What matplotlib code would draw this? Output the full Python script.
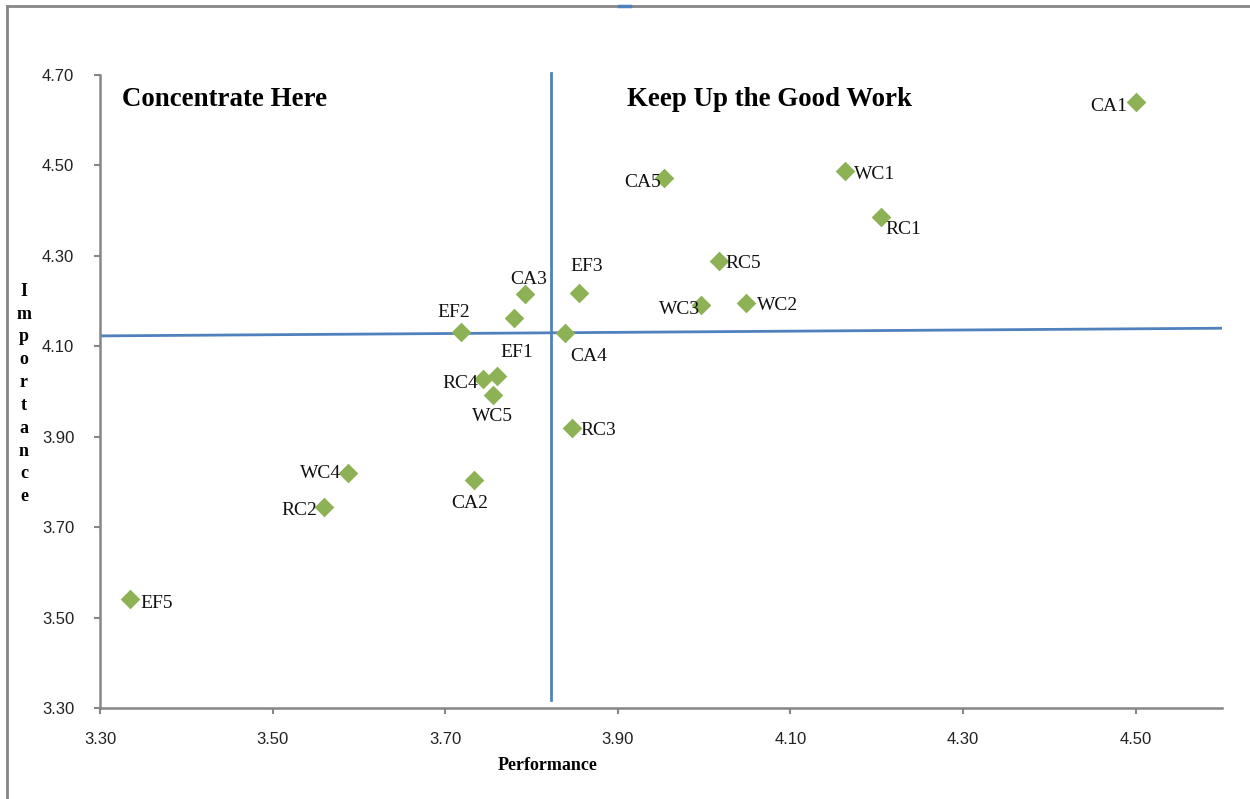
import matplotlib
matplotlib.use("Agg")
import matplotlib.pyplot as plt
from matplotlib.lines import Line2D

# performance (x) / importance (y) per item
labels = ["CA1", "WC1", "RC1", "CA5", "RC5", "WC2", "WC3", "EF3", "CA3", "EF1",
          "EF2", "CA4", "EF4", "RC4", "WC5", "RC3", "WC4", "CA2", "RC2", "EF5"]
performance = [4.500, 4.163, 4.205, 3.953, 4.017, 4.049, 3.996, 3.855, 3.793, 3.780,
               3.718, 3.839, 3.760, 3.744, 3.755, 3.847, 3.587, 3.733, 3.559, 3.335]
importance = [4.640, 4.488, 4.386, 4.472, 4.288, 4.196, 4.191, 4.218, 4.215, 4.162,
              4.131, 4.129, 4.035, 4.027, 3.993, 3.920, 3.820, 3.805, 3.745, 3.540]
show_label = [True] * 12 + [False] + [True] * 7

# label placement (offset in pixels, horizontal alignment)
label_pos = {
    "CA1": (-8, -4, "right"), "WC1": (9, -4, "left"), "RC1": (4, -13, "left"),
    "CA5": (-3, -4, "right"), "RC5": (7, -2, "left"), "WC2": (11, -3, "left"),
    "WC3": (-1, -4, "right"), "EF3": (8, 26, "center"), "CA3": (3, 15, "center"),
    "EF1": (2, -34, "center"), "EF2": (-7, 20, "center"), "CA4": (23, -23, "center"),
    "RC4": (-5, -4, "right"), "WC5": (0, -22, "center"), "RC3": (8, -3, "left"),
    "WC4": (-7, -1, "right"), "CA2": (-4, -24, "center"), "RC2": (-6, -4, "right"),
    "EF5": (10, -4, "left"),
}

x_ticks = [3.30, 3.50, 3.70, 3.90, 4.10, 4.30, 4.50]
y_ticks = [3.30, 3.50, 3.70, 3.90, 4.10, 4.30, 4.50, 4.70]

# quadrant split lines
vline_x = 3.823
hline_x = [3.30, 4.60]
hline_y = [4.123, 4.140]

blue = "#4F81BD"
green = "#8DB255"
grey = "#868686"
serif = ["Liberation Serif", "DejaVu Serif"]

fig = plt.figure(figsize=(12.5, 7.99), dpi=100)
ax = fig.add_axes([0.08, 0.1139, 0.8976, 0.7922])

ax.plot([vline_x, vline_x], [3.318, 4.704], color=blue, lw=2, zorder=2, clip_on=False)
ax.plot(hline_x, hline_y, color=blue, lw=2, zorder=2)

ax.scatter(performance, importance, marker="D", s=100, color=green, zorder=3,
           linewidths=0)

for lab, px, py, show in zip(labels, performance, importance, show_label):
    if not show:
        continue
    dx, dy, ha = label_pos[lab]
    ax.annotate(lab, (px, py), xytext=(dx, dy), textcoords="offset pixels",
                ha=ha, va="center", fontsize=14, family=serif, color="#111111")

ax.text(3.3255, 4.645, "Concentrate Here", fontsize=19.4, fontweight="bold",
        family=serif, va="center", ha="left")
ax.text(3.911, 4.645, "Keep Up the Good Work", fontsize=19.4, fontweight="bold",
        family=serif, va="center", ha="left")

ax.set_xlim(3.30, 4.60)
ax.set_ylim(3.30, 4.70)
ax.set_xticks(x_ticks)
ax.set_xticklabels(["%.2f" % v for v in x_ticks])
ax.set_yticks(y_ticks)
ax.set_yticklabels(["%.2f" % v for v in y_ticks])

for s in ["top", "right"]:
    ax.spines[s].set_visible(False)
for s in ["left", "bottom"]:
    ax.spines[s].set_color(grey)
    ax.spines[s].set_linewidth(1.8)
ax.tick_params(axis="both", direction="out", length=4.5, width=1.5, color=grey,
               labelsize=12, labelcolor="#222222")
ax.tick_params(axis="x", pad=13)
ax.tick_params(axis="y", pad=14)
for t in ax.get_xticklabels() + ax.get_yticklabels():
    t.set_family(["Liberation Sans", "DejaVu Sans"])

fig.text(548 / 1250, 1 - 766 / 799, "Performance", fontsize=13, fontweight="bold",
         family=serif, ha="center", va="center")
fig.text(24 / 1250, 1 - 394 / 799, "\n".join("Importance"), fontsize=13,
         fontweight="bold", family=serif, ha="center", va="center", linespacing=1.45)

# outer chart frame
fig.add_artist(Line2D([7 / 1250, 1.0], [1 - 6 / 799, 1 - 6 / 799], color=grey, lw=2))
fig.add_artist(Line2D([7 / 1250, 7 / 1250], [0, 1 - 6 / 799], color=grey, lw=2))
fig.add_artist(Line2D([619 / 1250, 630 / 1250], [1 - 6 / 799, 1 - 6 / 799], color=blue, lw=2.5))

fig.savefig("out.png", dpi=100, facecolor="white")
